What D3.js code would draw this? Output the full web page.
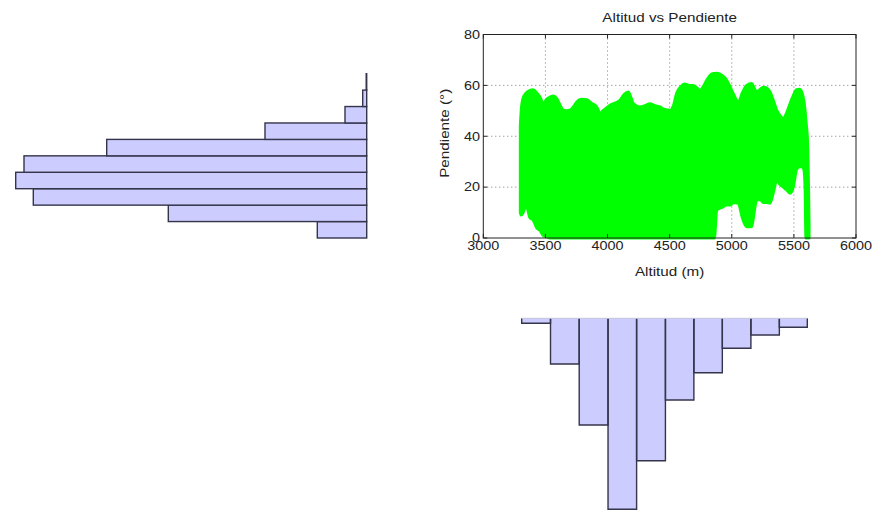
<!DOCTYPE html>
<html>
<head>
<meta charset="utf-8">
<script src="https://cdn.jsdelivr.net/npm/d3@7"></script>
<style>
  html, body { margin: 0; padding: 0; background: #ffffff; }
  svg { display: block; }
  text { font-family: "Liberation Sans", Arial, sans-serif; fill: #222; }
</style>
</head>
<body>
<svg id="chart" width="872" height="510"></svg>
<script>
// ---------- Data ----------
const title = "Altitud vs Pendiente";
const xLabel = "Altitud (m)";
const yLabel = "Pendiente (°)";
const xTicks = [3000, 3500, 4000, 4500, 5000, 5500, 6000];
const yTicks = [0, 20, 40, 60, 80];

// Envelope of the dense scatter cloud (Altitud vs Pendiente)
const altitud = [3298, 3305, 3320, 3345, 3375, 3402, 3430, 3456, 3483, 3510, 3537, 3565, 3591, 3620, 3644, 3670, 3698, 3725, 3752, 3790, 3832, 3870, 3913, 3940, 3966, 3990, 4020, 4060, 4100, 4135, 4167, 4190, 4207, 4261, 4300, 4342, 4380, 4422, 4460, 4503, 4530, 4557, 4590, 4620, 4660, 4690, 4720, 4744, 4770, 4798, 4840, 4860, 4879, 4920, 4959, 4990, 5012, 5053, 5085, 5120, 5160, 5180, 5200, 5230, 5254, 5280, 5308, 5335, 5362, 5390, 5415, 5440, 5469, 5495, 5522, 5545, 5563, 5580, 5590, 5597, 5605, 5612, 5618, 5622];
const pendienteMax = [44, 50, 55, 57, 58, 58.3, 57, 55.4, 52.8, 54.5, 55.4, 55.8, 54.8, 52, 50.2, 50, 50.2, 51.5, 53.5, 54.5, 54.4, 53, 51.5, 49, 50.2, 51, 52.2, 53, 54.1, 56.5, 57.4, 55, 52.8, 51.5, 52, 52.8, 52, 51.5, 50.5, 50.2, 52, 57, 59.5, 60.5, 60, 60, 59, 58, 59.5, 62, 64.5, 64.7, 64.8, 64, 62, 59, 56.7, 53.5, 57, 60, 60.7, 59, 57.4, 58.5, 59.3, 59, 57.4, 54, 50.2, 48, 46.9, 49, 52.8, 56, 58.3, 58.5, 57.4, 54, 50, 46, 42, 35, 20, 5];
const pendienteMin = [10, 9, 10, 13, 8, 7, 4, 3, 1, 0.5, 0, 0, 0, 0, 0, 0, 0, 0, 0, 0, 0, 0, 0, 0, 0, 0, 0, 0, 0, 0, 0, 0, 0, 0, 0, 0, 0, 0, 0, 0, 0, 0, 0, 0, 0, 0, 0, 0, 0, 0, 0, 0, 11, 12, 13, 13, 14, 13.6, 8, 4.4, 4.4, 10, 15, 15, 14, 14, 13.7, 18, 22.7, 21, 20, 19, 17.6, 20, 27, 28, 28, 27, 20, 0, 0, 0, 0, 0];

// Histogram of Pendiente (left, horizontal)
const pendienteEdges = [0, 6.46, 12.92, 19.38, 25.84, 32.3, 38.76, 45.22, 51.68, 58.14, 64.6];
const pendienteCounts = [4940, 19840, 33340, 35100, 34270, 26000, 10170, 2170, 400, 50];

// Histogram of Altitud (bottom, hanging down)
const altitudEdges = [3309, 3541, 3772, 4004, 4234, 4466, 4695, 4924, 5154, 5383, 5608];
const altitudCounts = [1218, 11133, 25992, 46528, 34689, 19902, 13252, 7308, 4068, 2192];

// ---------- Drawing ----------
const svg = d3.select("#chart");
svg.append("rect").attr("width", 872).attr("height", 510).attr("fill", "#fff");

const ax = { left: 483.3, right: 856, top: 34.5, bottom: 238 };
const x = d3.scaleLinear().domain([3000, 6000]).range([ax.left, ax.right]);
const y = d3.scaleLinear().domain([0, 80]).range([ax.bottom, ax.top]);

const stretch = 1.2;   // wide font look of the original
const stretchLbl = 1.27;

// grid (dotted, beneath data)
const grid = svg.append("g").attr("stroke", "#7a7a7a").attr("stroke-width", 1)
  .attr("stroke-dasharray", "1,3");
xTicks.slice(1, -1).forEach(t => {
  grid.append("line").attr("x1", x(t)).attr("x2", x(t)).attr("y1", ax.top).attr("y2", ax.bottom);
});
yTicks.slice(1, -1).forEach(t => {
  grid.append("line").attr("x1", ax.left).attr("x2", ax.right).attr("y1", y(t)).attr("y2", y(t));
});

// scatter cloud
const cloud = altitud.map((a, i) => ({ a, hi: pendienteMax[i], lo: pendienteMin[i] }));
const area = d3.area().x(d => x(d.a)).y0(d => y(d.lo)).y1(d => y(d.hi)).curve(d3.curveMonotoneX);
svg.append("path").datum(cloud).attr("d", area)
  .attr("fill", "#00ff00").attr("stroke", "#00ff00").attr("stroke-width", 3)
  .attr("stroke-linejoin", "round");

// axes box
svg.append("rect").attr("x", ax.left).attr("y", ax.top)
  .attr("width", ax.right - ax.left).attr("height", ax.bottom - ax.top)
  .attr("fill", "none").attr("stroke", "#222").attr("stroke-width", 1);

// ticks (inward, on all sides)
const tk = svg.append("g").attr("stroke", "#222").attr("stroke-width", 1);
xTicks.forEach(t => {
  tk.append("line").attr("x1", x(t)).attr("x2", x(t)).attr("y1", ax.bottom).attr("y2", ax.bottom - 4);
  tk.append("line").attr("x1", x(t)).attr("x2", x(t)).attr("y1", ax.top).attr("y2", ax.top + 4);
});
yTicks.forEach(t => {
  tk.append("line").attr("x1", ax.left).attr("x2", ax.left + 4).attr("y1", y(t)).attr("y2", y(t));
  tk.append("line").attr("x1", ax.right).attr("x2", ax.right - 4).attr("y1", y(t)).attr("y2", y(t));
});

// tick labels
xTicks.forEach(t => {
  svg.append("text").attr("transform", `translate(${x(t)},249.5) scale(${stretch},1)`)
    .attr("text-anchor", "middle").attr("font-size", 12).text(t);
});
yTicks.forEach(t => {
  svg.append("text").attr("transform", `translate(480,${y(t) + 4.3}) scale(${stretch},1)`)
    .attr("text-anchor", "end").attr("font-size", 12).text(t);
});

// title and labels
svg.append("text").attr("transform", `translate(${(ax.left + ax.right) / 2},21.5) scale(${stretchLbl},1)`)
  .attr("text-anchor", "middle").attr("font-size", 12).text(title);
svg.append("text").attr("transform", `translate(${(ax.left + ax.right) / 2},275.5) scale(${stretchLbl},1)`)
  .attr("text-anchor", "middle").attr("font-size", 12).text(xLabel);
svg.append("text").attr("transform", `translate(449,133.3) rotate(-90) scale(${stretchLbl},1)`)
  .attr("text-anchor", "middle").attr("font-size", 12).text(yLabel);

// ---------- Left histogram (Pendiente) ----------
const histFill = "#ccccff", histStroke = "#34344a";
const cxL = d3.scaleLinear().domain([0, d3.max(pendienteCounts)]).range([366.7, 15.7]);
const leftBins = pendienteCounts.map((c, i) => ({ c, y0: pendienteEdges[i], y1: pendienteEdges[i + 1] }));
svg.append("g").selectAll("rect").data(leftBins).join("rect")
  .attr("x", d => cxL(d.c)).attr("width", d => cxL(0) - cxL(d.c))
  .attr("y", d => y(d.y1)).attr("height", d => y(d.y0) - y(d.y1))
  .attr("fill", histFill).attr("stroke", histStroke).attr("stroke-width", 1.4);

// ---------- Bottom histogram (Altitud) ----------
const cyB = d3.scaleLinear().domain([0, d3.max(altitudCounts)]).range([318.3, 509.3]);
const botBins = altitudCounts.map((c, i) => ({ c, x0: altitudEdges[i], x1: altitudEdges[i + 1] }));
const gB = svg.append("g");
gB.selectAll("rect").data(botBins).join("rect")
  .attr("x", d => x(d.x0)).attr("width", d => x(d.x1) - x(d.x0))
  .attr("y", cyB(0)).attr("height", d => cyB(d.c) - cyB(0))
  .attr("fill", histFill).attr("stroke", "none");
gB.selectAll("path").data(botBins).join("path")
  .attr("d", d => `M${x(d.x0)},${cyB(0)}L${x(d.x0)},${cyB(d.c)}L${x(d.x1)},${cyB(d.c)}L${x(d.x1)},${cyB(0)}`)
  .attr("fill", "none").attr("stroke", histStroke).attr("stroke-width", 1.4);
gB.append("line").attr("x1", x(altitudEdges[0])).attr("x2", x(altitudEdges[altitudEdges.length - 1]))
  .attr("y1", cyB(0)).attr("y2", cyB(0)).attr("stroke", "#c4c4dc").attr("stroke-width", 1);
</script>
</body>
</html>
